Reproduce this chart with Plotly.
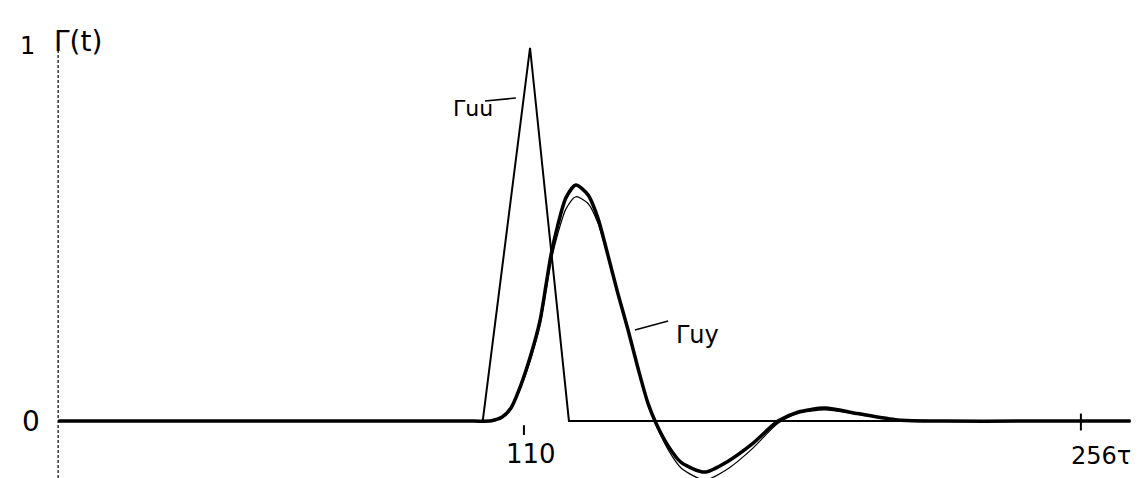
"""Hand-drawn correlation sketch: Γuu triangle and Γuy response curves."""

import plotly.graph_objects as go

# Γuu (triangular autocorrelation)
tau_uu = [-12, 99.2, 111.6, 121.8, 269]
gamma_uu = [0, 0, 0.995, 0, 0]

# Γuy, thick drawn curve
tau_uy = [-12, 40, 80, 95, 101.5, 104.2, 106.6, 109.2, 111.8, 114.2, 115.8, 117.1,
          118.9, 121.0, 123.6, 126.8, 129.4, 132.0, 134.6, 137.3, 139.9, 142.5,
          144.6, 147.8, 151.2, 157.4, 163.5, 169.6, 176.6, 181.8, 188.9, 197.5,
          208, 220, 240, 269]
gamma_uy = [0, 0, 0, 0, 0.001, 0.01, 0.035, 0.096, 0.176, 0.267, 0.363, 0.443,
            0.523, 0.595, 0.629, 0.603, 0.541, 0.443, 0.341, 0.243, 0.141, 0.048,
            -0.005, -0.066, -0.11, -0.136, -0.107, -0.063, 0, 0.024, 0.035, 0.02,
            0.003, 0, 0, 0]

# Γuy, thin second curve
gamma_uy_thin = [0, 0, 0, 0, 0.001, 0.009, 0.032, 0.09, 0.166, 0.255, 0.348, 0.425,
                 0.5, 0.565, 0.598, 0.58, 0.528, 0.438, 0.34, 0.243, 0.141, 0.046,
                 -0.01, -0.076, -0.125, -0.157, -0.127, -0.076, -0.006, 0.02, 0.03, 0.018,
                 0.002, 0, 0, 0]

x_ticks = [110, 256]
x_tick_text = ["110", "256τ"]

INK = "black"
FONT = "DejaVu Sans"

fig = go.Figure()

fig.add_trace(go.Scatter(x=tau_uu, y=gamma_uu, mode="lines",
                         line=dict(color=INK, width=2), name="Γuu"))
fig.add_trace(go.Scatter(x=tau_uy, y=gamma_uy, mode="lines",
                         line=dict(color=INK, width=3.5, shape="spline", smoothing=0.7),
                         name="Γuy"))
fig.add_trace(go.Scatter(x=tau_uy, y=gamma_uy_thin, mode="lines",
                         line=dict(color=INK, width=1.2, shape="spline", smoothing=0.7),
                         name="Γuy (2)"))

# dashed vertical axis
fig.add_shape(type="line", x0=-12.1, x1=-12.1, y0=1.016, y1=-0.16,
              line=dict(color=INK, width=1.2, dash="3px,2px"))

# tick marks
fig.add_shape(type="line", x0=x_ticks[0], x1=x_ticks[0], y0=-0.011, y1=-0.037,
              line=dict(color=INK, width=2))
fig.add_shape(type="line", x0=x_ticks[1], x1=x_ticks[1], y0=0.02, y1=-0.025,
              line=dict(color=INK, width=2))

# leader lines for the curve labels
fig.add_shape(type="line", x0=99.8, x1=107.9, y0=0.853, y1=0.861,
              line=dict(color=INK, width=1.5))
fig.add_shape(type="line", x0=139.1, x1=147.8, y0=0.243, y1=0.267,
              line=dict(color=INK, width=1.5))

labels = [
    (-20.0, 1.0, "1", 24),
    (-6.9, 1.013, "Γ(t)", 28),
    (-19.2, 0.0, "0", 28),
    (96.7, 0.832, "Γuu", 22),
    (155.6, 0.229, "Γuy", 24),
    (x_ticks[0] + 1.9, -0.088, x_tick_text[0], 26),
    (x_ticks[1] + 5.3, -0.093, x_tick_text[1], 24),
]
for x, y, text, size in labels:
    fig.add_annotation(x=x, y=y, text=text, showarrow=False,
                       font=dict(family=FONT, size=size, color=INK),
                       xanchor="center", yanchor="middle")

fig.update_layout(
    width=1145, height=478,
    margin=dict(l=0, r=0, t=0, b=0),
    paper_bgcolor="white", plot_bgcolor="white",
    showlegend=False,
    xaxis=dict(range=[-25.24, 274.9], visible=False),
    yaxis=dict(range=[-0.173, 1.101], visible=False),
)

fig.write_html("out.html")
